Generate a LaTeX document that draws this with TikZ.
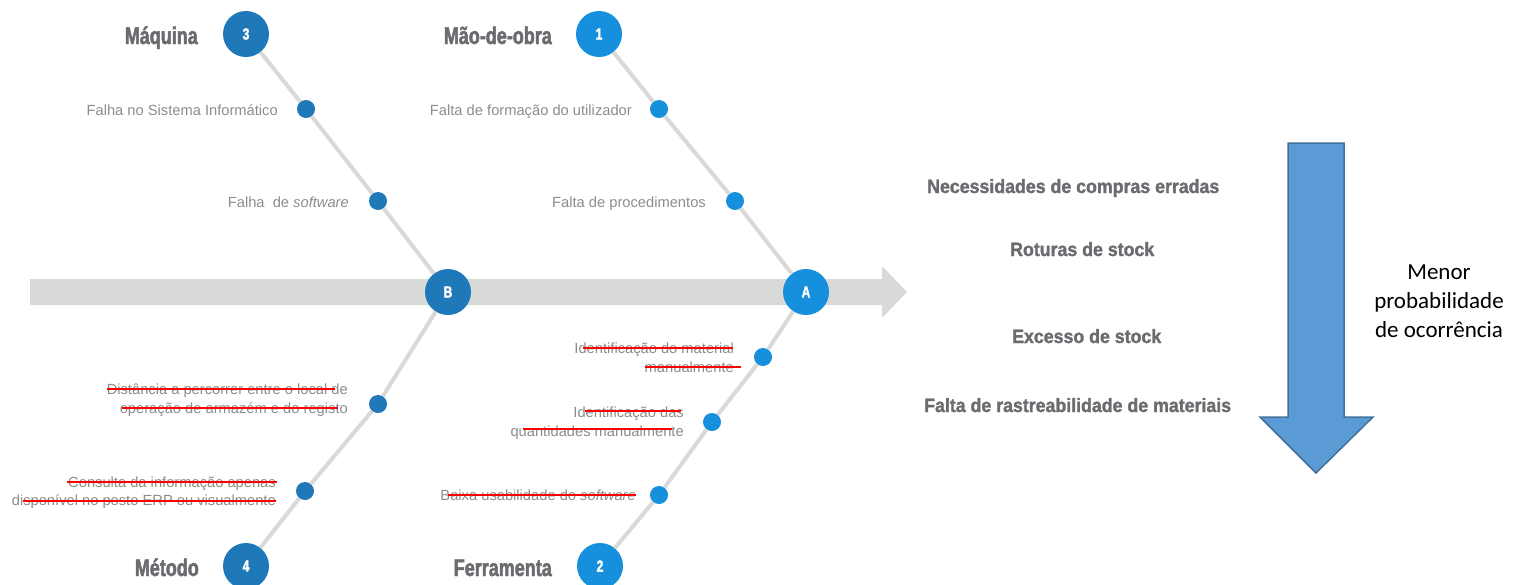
\documentclass[tikz,border=0pt]{standalone}
\usepackage{fontspec}
\setmainfont{Liberation Sans}
\newfontfamily\headfont[FakeStretch=0.75,FakeBold=2]{Liberation Sans Bold}
\newfontfamily\effectfont[FakeStretch=0.92,FakeBold=1.5]{Liberation Sans Bold}
\newfontfamily\calib{Carlito}
\definecolor{dblue}{HTML}{1F78B8}
\definecolor{lblue}{HTML}{168FDC}
\definecolor{bonegray}{HTML}{D9D9D9}
\definecolor{headgray}{HTML}{6B6B70}
\definecolor{txtgray}{HTML}{8C8C8C}
\definecolor{arrfill}{HTML}{5B9BD5}
\definecolor{arrdraw}{HTML}{41719C}
\begin{document}
\begin{tikzpicture}[x=1pt,y=-1pt,
  bigc/.style={circle,minimum size=46pt,inner sep=0pt,text=white,font=\headfont\fontsize{16}{16}\selectfont},
  bigd/.style={bigc,fill=dblue},
  bigl/.style={bigc,fill=lblue},
  smalld/.style={circle,minimum size=18pt,inner sep=0pt,fill=dblue},
  smalll/.style={circle,minimum size=18pt,inner sep=0pt,fill=lblue},
  bone/.style={draw=bonegray,line width=4pt},
  lbl/.style={anchor=base east,inner sep=0pt,text=txtgray,font=\fontsize{14.7}{18}\selectfont},
  head/.style={anchor=base east,inner sep=0pt,text=headgray,font=\headfont\fontsize{24}{24}\selectfont},
  effect/.style={anchor=base west,inner sep=0pt,text=headgray,font=\effectfont\fontsize{19.3}{19}\selectfont},
  strike/.style={draw=red,line width=1.5pt},
  calt/.style={anchor=base,inner sep=0pt,text=black,font=\calib\fontsize{23}{23}\selectfont}]
\useasboundingbox (0,0) rectangle (1521,584);
% spine
\fill[bonegray] (30,279) -- (882,279) -- (882,266) -- (907,292) -- (882,318) -- (882,305) -- (30,305) -- cycle;
% main circles
\node[bigd] (B) at (448,292) {B};
\node[bigl] (A) at (806,292) {A};
\node[bigd] (c3) at (246,34) {3};
\node[bigl] (c1) at (599,34) {1};
\node[bigd] (c4) at (246,566) {4};
\node[bigl] (c2) at (600,566) {2};
% dots
\node[smalld] (d31) at (306,109) {};
\node[smalld] (d32) at (378,201) {};
\node[smalll] (d11) at (659,109) {};
\node[smalll] (d12) at (735,201) {};
\node[smalld] (d41) at (378,404) {};
\node[smalld] (d42) at (305,491) {};
\node[smalll] (d21) at (763,357) {};
\node[smalll] (d22) at (712,422) {};
\node[smalll] (d23) at (659,495) {};
% bones
\draw[bone] (c3) -- (d31) -- (d32) -- (B);
\draw[bone] (c1) -- (d11) -- (d12) -- (A);
\draw[bone] (c4) -- (d42) -- (d41) -- (B);
\draw[bone] (c2) -- (d23) -- (d22) -- (d21) -- (A);
% headings
\node[head] (hm) at (198,44) {Máquina};
\node[head] (ho) at (552,44) {Mão-de-obra};
\node[head] (hme) at (199,576) {Método};
\node[head] (hf) at (552,576) {Ferramenta};
% cause labels
\node[lbl] (t31) at (278,115) {Falha no Sistema Informático};
\node[lbl] (t32) at (349,207) {Falha\ \ de \textit{software}};
\node[lbl] (t11) at (632,115) {Falta de formação do utilizador};
\node[lbl] (t12) at (706,207) {Falta de procedimentos};
\node[lbl] (t41a) at (348,394) {Distância a percorrer entre o local de};
\node[lbl] (t41b) at (348,413) {operação de armazém e do registo};
\node[lbl] (t42a) at (276,487) {Consulta da informação apenas};
\node[lbl] (t42b) at (276,505) {disponível no posto ERP ou visualmente};
\node[lbl] (t21a) at (734,353) {Identificação do material};
\node[lbl] (t21b) at (734,372) {manualmente};
\node[lbl] (t22a) at (684,417) {Identificação das};
\node[lbl] (t22b) at (684,436) {quantidades manualmente};
\node[lbl] (t23) at (636,500) {Baixa usabilidade do \textit{software}};
% strike-through lines
\draw[strike] (107,389) -- (335,389);
\draw[strike] (122,408) -- (338,408);
\draw[strike] (67,482) -- (277,482);
\draw[strike] (23,501) -- (276,501);
\draw[strike] (583,348) -- (733,348);
\draw[strike] (645,367) -- (741,367);
\draw[strike] (585,411) -- (681,411);
\draw[strike] (523,429) -- (672,429);
\draw[strike] (448,495) -- (636,495);
% effects
\node[effect] (e1) at (927,193) {Necessidades de compras erradas};
\node[effect] (e2) at (1010,256) {Roturas de stock};
\node[effect] (e3) at (1012,343) {Excesso de stock};
\node[effect] (e4) at (924,412) {Falta de rastreabilidade de materiais};
% big arrow
\draw[fill=arrfill,draw=arrdraw,line width=1.5pt,line join=miter]
  (1288,143) -- (1344,143) -- (1344,417) -- (1373,417) -- (1316,473) -- (1260,417) -- (1288,417) -- cycle;
\node[calt] (m1) at (1439,279) {Menor};
\node[calt] (m2) at (1439,308) {probabilidade};
\node[calt] (m3) at (1439,337) {de ocorrência};
\end{tikzpicture}
\end{document}
